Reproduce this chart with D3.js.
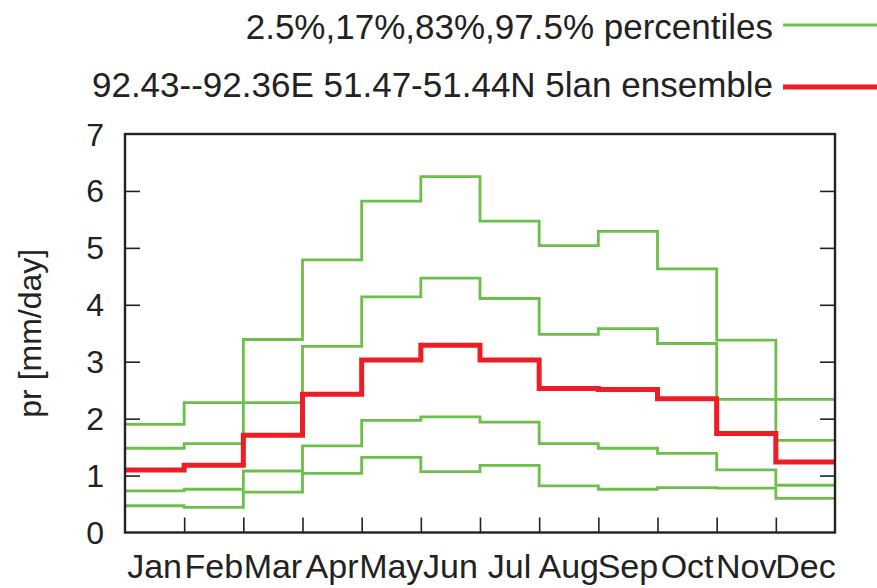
<!DOCTYPE html>
<html>
<head>
<meta charset="utf-8">
<script src="https://cdn.jsdelivr.net/npm/d3@7"></script>
<style>
  html, body { margin: 0; padding: 0; background: #fff; }
  svg { display: block; font-family: "Liberation Sans", Arial, Helvetica, sans-serif; }
</style>
</head>
<body>
<svg id="chart" width="877" height="588"></svg>
<script>
// Monthly precipitation climatology (mm/day) for the ensemble and its percentile envelope
const months = ["Jan","Feb","Mar","Apr","May","Jun","Jul","Aug","Sep","Oct","Nov","Dec"];
const p025 = [0.47, 0.44, 0.71, 1.04, 1.32, 1.07, 1.18, 0.82, 0.76, 0.79, 0.78, 0.60];
const p17  = [0.73, 0.76, 1.08, 1.52, 1.97, 2.03, 1.94, 1.56, 1.48, 1.39, 1.10, 0.83];
const median = [1.10, 1.18, 1.71, 2.43, 3.03, 3.29, 3.03, 2.53, 2.51, 2.35, 1.74, 1.24];
const p83  = [1.48, 1.56, 2.28, 3.27, 4.14, 4.47, 4.11, 3.48, 3.58, 3.32, 2.34, 1.62];
const p975 = [1.90, 2.28, 3.39, 4.79, 5.82, 6.25, 5.47, 5.04, 5.29, 4.63, 3.38, 2.34];
const yTicks = [0, 1, 2, 3, 4, 5, 6, 7];
const legendLabels = ["2.5%,17%,83%,97.5% percentiles", "92.43--92.36E 51.47-51.44N 5lan ensemble"];

const GREEN = "#6cc04a";
const RED = "#ee1d24";
const INK = "#222";
const GREEN_W = 2.8, RED_W = 5;

const svg = d3.select("#chart");
const plotL = 125, plotR = 835, plotT = 134, plotB = 532.5;

// Month index scale: 0..12 spans the full plot width
const x = d3.scaleLinear().domain([0, 12]).range([plotL, plotR]);
const y = d3.scaleLinear().domain([0, 7]).range([plotB, plotT]);

// Step line: each month is a flat segment from its start to its end
const step = d3.line()
  .x(d => x(d[0]))
  .y(d => y(d[1]))
  .curve(d3.curveStepAfter);
function stepPoints(vals) {
  const pts = vals.map((v, i) => [i, v]);
  pts.push([vals.length, vals[vals.length - 1]]);
  return pts;
}

const plot = svg.append("g");
[p025, p17, p83, p975].forEach(s => {
  plot.append("path")
    .attr("d", step(stepPoints(s)))
    .attr("fill", "none")
    .attr("stroke", GREEN)
    .attr("stroke-width", GREEN_W);
});
plot.append("path")
  .attr("d", step(stepPoints(median)))
  .attr("fill", "none")
  .attr("stroke", RED)
  .attr("stroke-width", RED_W);

// Y axis: inward ticks on left and right, labels on the left
const yAxisL = d3.axisRight(y).tickValues(yTicks.slice(1, -1)).tickSize(15).tickFormat("");
svg.append("g").attr("transform", `translate(${plotL},0)`).call(yAxisL)
  .call(g => g.select(".domain").remove())
  .call(g => g.selectAll("line").attr("stroke", INK).attr("stroke-width", 1.6));
const yAxisR = d3.axisLeft(y).tickValues(yTicks.slice(1, -1)).tickSize(15).tickFormat("");
svg.append("g").attr("transform", `translate(${plotR},0)`).call(yAxisR)
  .call(g => g.select(".domain").remove())
  .call(g => g.selectAll("line").attr("stroke", INK).attr("stroke-width", 1.6));

svg.append("g").selectAll("text").data(yTicks).join("text")
  .attr("x", 104)
  .attr("y", d => y(d))
  .attr("dy", "0.36em")
  .attr("text-anchor", "end")
  .attr("font-size", 32)
  .attr("fill", INK)
  .text(d => d);

// X axis: ticks at month boundaries, labels at month centres
const xAxis = d3.axisTop(x).tickValues(d3.range(1, 12)).tickSize(15).tickFormat("");
svg.append("g").attr("transform", `translate(0,${plotB})`).call(xAxis)
  .call(g => g.select(".domain").remove())
  .call(g => g.selectAll("line").attr("stroke", INK).attr("stroke-width", 1.6));

svg.append("g").selectAll("text").data(months).join("text")
  .attr("x", (d, i) => x(i + 0.5))
  .attr("y", 578)
  .attr("text-anchor", "middle")
  .attr("font-size", 34)
  .attr("fill", INK)
  .text(d => d);

// Frame
svg.append("rect")
  .attr("x", plotL).attr("y", plotT)
  .attr("width", plotR - plotL).attr("height", plotB - plotT)
  .attr("fill", "none").attr("stroke", INK).attr("stroke-width", 2.4);

// Y axis title
svg.append("text")
  .attr("transform", `translate(41,${(plotT + plotB) / 2}) rotate(-90)`)
  .attr("text-anchor", "middle")
  .attr("font-size", 32)
  .attr("fill", INK)
  .text("pr [mm/day]");

// Legend
const legend = svg.append("g");
const legendRows = [
  { label: legendLabels[0], color: GREEN, width: GREEN_W, baseline: 39, lineY: 25 },
  { label: legendLabels[1], color: RED, width: RED_W, baseline: 97, lineY: 87 }
];
legendRows.forEach(r => {
  legend.append("text")
    .attr("x", 773).attr("y", r.baseline)
    .attr("text-anchor", "end")
    .attr("font-size", 35)
    .attr("fill", INK)
    .text(r.label);
  legend.append("line")
    .attr("x1", 783).attr("x2", 880)
    .attr("y1", r.lineY).attr("y2", r.lineY)
    .attr("stroke", r.color).attr("stroke-width", r.width);
});
</script>
</body>
</html>
